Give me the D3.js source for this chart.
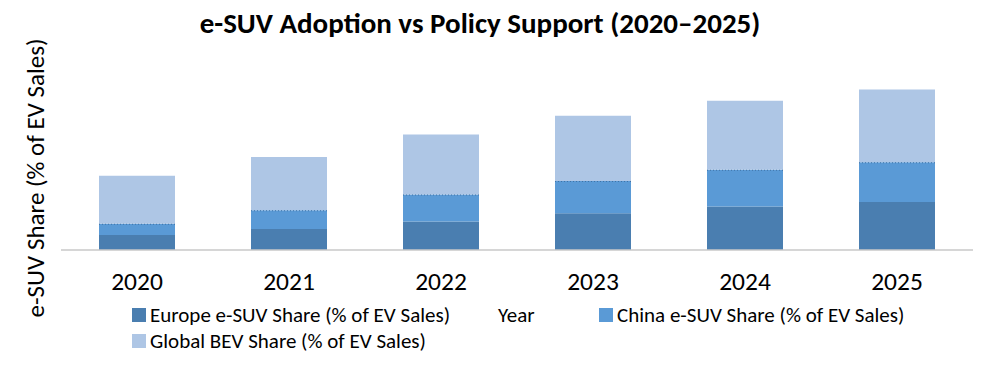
<!DOCTYPE html>
<html lang="en">
<head>
    <meta charset="UTF-8">
    <title>e-SUV Adoption vs Policy Support</title>
    <script src="https://d3js.org/d3.v7.min.js"></script>
    <style>
        body { margin: 0; background: #fff; }
        svg { display: block; font-family: Carlito, Calibri, Lato, sans-serif; }
    </style>
</head>
<body>
    <svg width="996" height="371"></svg>
    <script>
        // data (no y ticks, so values are estimates)
        const years = ["2020", "2021", "2022", "2023", "2024", "2025"];
        const europeShare = [20, 28, 38, 49, 58, 64];
        const chinaShare = [15, 25, 36, 43, 49, 53];
        const globalBev = [64, 71, 80, 87, 92, 97];
        const seriesNames = [
            "Europe e-SUV Share (% of EV Sales)",
            "China e-SUV Share (% of EV Sales)",
            "Global BEV Share (% of EV Sales)"
        ];
        const seriesColors = ["#4a7eb0", "#5a9ad6", "#aec6e5"];

        const svg = d3.select("svg");
        const plot = { left: 61, right: 973, top: 25, bottom: 250 };

        const rows = years.map((y, i) => ({
            year: y,
            europe: europeShare[i],
            china: chinaShare[i],
            global: globalBev[i]
        }));
        const stack = d3.stack().keys(["europe", "china", "global"])(rows);

        const x = d3.scaleBand()
            .domain(years)
            .range([plot.left, plot.right])
            .paddingInner(0.5)
            .paddingOuter(0.25);

        const y = d3.scaleLinear()
            .domain([0, 300])
            .range([plot.bottom, plot.top]);

        // title
        svg.append("text")
            .attr("x", 480)
            .attr("y", 33)
            .attr("text-anchor", "middle")
            .attr("font-size", "29px")
            .attr("font-weight", "bold")
            .attr("fill", "#000")
            .text("e-SUV Adoption vs Policy Support (2020\u20132025)");

        // y axis title
        svg.append("text")
            .attr("transform", "translate(44,178) rotate(-90)")
            .attr("text-anchor", "middle")
            .attr("font-size", "25px")
            .attr("fill", "#000")
            .text("e-SUV Share (% of EV Sales)");

        // bars
        const layers = svg.append("g").selectAll("g")
            .data(stack)
            .enter()
            .append("g")
            .attr("fill", (d, i) => seriesColors[i]);

        layers.selectAll("rect")
            .data(d => d)
            .enter()
            .append("rect")
            .attr("x", d => x(d.data.year))
            .attr("width", x.bandwidth())
            .attr("y", d => y(d[1]))
            .attr("height", d => y(d[0]) - y(d[1]));

        // dotted edge on top of the China segment
        svg.append("g").selectAll("line")
            .data(stack[1])
            .enter()
            .append("line")
            .attr("x1", d => x(d.data.year))
            .attr("x2", d => x(d.data.year) + x.bandwidth())
            .attr("y1", d => y(d[1]) + 0.5)
            .attr("y2", d => y(d[1]) + 0.5)
            .attr("stroke", "#3f73a6")
            .attr("stroke-width", 1)
            .attr("stroke-dasharray", "1,2");

        // category axis
        const xAxis = svg.append("g")
            .attr("transform", `translate(0,${plot.bottom})`)
            .call(d3.axisBottom(x).tickSize(0).tickPadding(22));
        xAxis.select(".domain")
            .attr("stroke", "#c8c8c8")
            .attr("stroke-width", 1.5)
            .attr("d", `M${plot.left},0H${plot.right}`);
        xAxis.selectAll("text")
            .attr("font-size", "25.5px")
            .attr("font-family", "Carlito, Calibri, Lato, sans-serif")
            .attr("fill", "#000");

        // legend
        const legendItems = [
            { name: seriesNames[0], color: seriesColors[0], x: 132, y: 322 },
            { name: "Year", color: null, x: 498, y: 322 },
            { name: seriesNames[1], color: seriesColors[1], x: 599, y: 322 },
            { name: seriesNames[2], color: seriesColors[2], x: 132, y: 348 }
        ];
        const legend = svg.append("g").selectAll("g")
            .data(legendItems)
            .enter()
            .append("g")
            .attr("transform", d => `translate(${d.x},${d.y})`);

        legend.filter(d => d.color)
            .append("rect")
            .attr("x", 0)
            .attr("y", -14)
            .attr("width", 14)
            .attr("height", 14)
            .attr("fill", d => d.color);

        legend.append("text")
            .attr("x", d => d.color ? 18 : 0)
            .attr("y", 0)
            .attr("font-size", "21px")
            .attr("fill", "#000")
            .text(d => d.name);
    </script>
</body>
</html>
